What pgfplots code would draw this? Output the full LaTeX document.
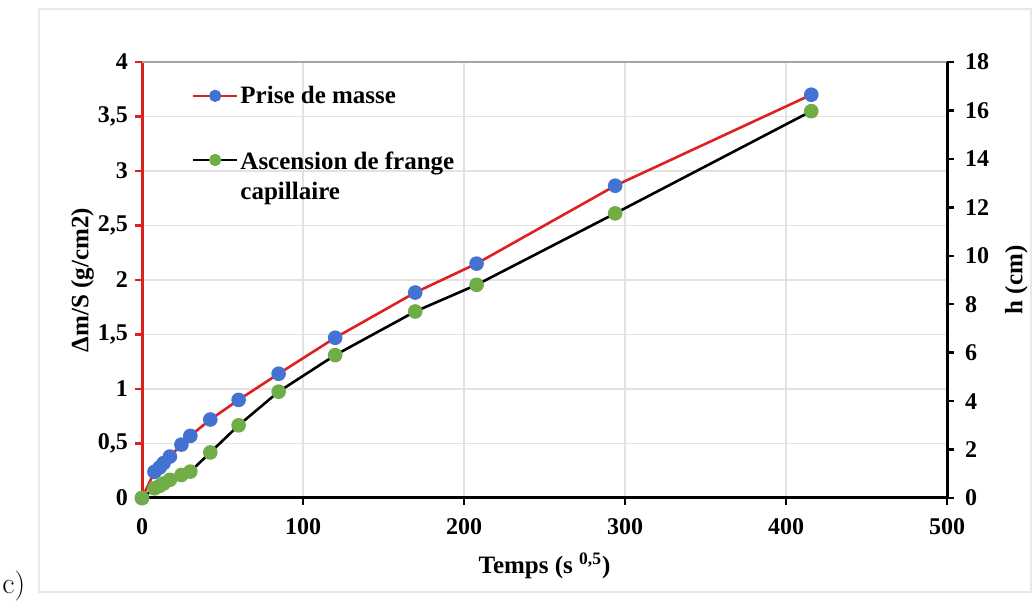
\documentclass[border=0pt]{standalone}
\usepackage{fontspec}
\usepackage{pgfplots}
\pgfplotsset{compat=1.18}
\newfontfamily\tnr{Liberation Serif}
\newcommand{\tb}{\tnr\bfseries\fontsize{12.5}{15}\selectfont}
\newcommand{\tbt}{\tnr\bfseries\fontsize{12}{14}\selectfont}
\definecolor{xred}{RGB}{222,32,32}
\definecolor{xblue}{RGB}{68,114,210}
\definecolor{xgreen}{RGB}{112,173,71}
\definecolor{gridc}{RGB}{226,226,226}
\definecolor{framec}{RGB}{232,232,232}

\pgfplotstableread{
t dm
0 0
7.75 0.24
10.95 0.28
13.42 0.32
17.32 0.38
24.49 0.49
30 0.57
42.43 0.72
60 0.90
84.85 1.14
120 1.47
169.7 1.885
207.8 2.15
293.9 2.865
415.7 3.70
}\masse

\pgfplotstableread{
t h
0 0
7.75 0.40
10.95 0.50
13.42 0.60
17.32 0.75
24.49 0.95
30 1.09
42.43 1.88
60 3.0
84.85 4.39
120 5.9
169.7 7.7
207.8 8.8
293.9 11.75
415.7 15.97
}\frange

\pgfplotsset{
  common/.style={
    at={(71pt,53pt)}, anchor=south west,
    scale only axis, width=402.5pt, height=218pt,
    xmin=0, xmax=500,
    tick align=outside, major tick length=3.5pt,
    /pgf/number format/assume math mode=true,
    /pgf/number format/use comma,
    tick label style={font=\tbt},
    label style={font=\tb},
  }
}

\begin{document}
\begin{tikzpicture}
\useasboundingbox (0,0) rectangle (516pt,302pt);
\draw[framec, line width=0.6pt] (19.5pt,297.5pt) rectangle (515.5pt,6pt);
\node[anchor=base west, inner sep=0pt, font=\fontsize{15}{18}\selectfont] at (1pt,5pt) {c)};

\begin{axis}[common,
  ymin=0, ymax=4,
  axis x line*=bottom, axis y line*=left,
  xtick={0,100,...,500}, ytick={0,0.5,...,4},
  x axis line style={-, black, line width=1.5pt},
  y axis line style={-, xred, line width=1.5pt},
  xtick style={black, line width=1.2pt},
  ytick style={xred, line width=1.2pt},
  xmajorgrids, ymajorgrids,
  grid style={gridc, line width=0.7pt},
  xlabel={Temps (s \textsuperscript{0,5})},
  ylabel={Δm/S (g/cm2)},
  xlabel style={at={(axis description cs:0.5,-0.156)}, anchor=center},
  ylabel style={at={(axis description cs:-0.074,0.5)}, anchor=center},
  xticklabel style={yshift=-3pt},
]
\draw[gray!70, line width=1pt] (rel axis cs:0,1) -- (rel axis cs:1,1);
\addplot[xred, line width=1.3pt, mark=*, mark size=3pt,
  mark options={fill=xblue, draw=xblue}] table[x=t, y=dm] {\masse};
\end{axis}

\begin{axis}[common,
  ymin=0, ymax=18,
  axis x line=none, axis y line*=right,
  ytick={0,2,...,18},
  y axis line style={-, black, line width=1.5pt},
  ytick style={black, line width=1.2pt},
  ylabel={h (cm)},
  ylabel style={at={(axis description cs:1.086,0.5)}, anchor=center, rotate=0},
  yticklabel style={xshift=2pt},
  legend style={at={(rel axis cs:0.054,0.965)}, anchor=north west,
    draw=none, fill=none, font=\tb, row sep=17pt,
    cells={align=left}},
  legend cell align=left,
  legend image code/.code={
    \draw[#1, mark size=2.4pt, mark repeat=2, mark phase=2]
      plot coordinates {(0pt,0pt) (11pt,0pt) (22pt,0pt)};},
]
\addlegendimage{xred, line width=1.3pt, mark=*, mark options={fill=xblue, draw=xblue}}
\addlegendentry{\hspace{-1pt}Prise de masse}
\addplot[black, line width=1.3pt, mark=*, mark size=3pt,
  mark options={fill=xgreen, draw=xgreen}] table[x=t, y=h] {\frange};
\addlegendentry{\hspace{-1pt}\begin{tabular}[t]{@{}l@{}}Ascension de frange\\capillaire\end{tabular}}
\end{axis}
\end{tikzpicture}
\end{document}
